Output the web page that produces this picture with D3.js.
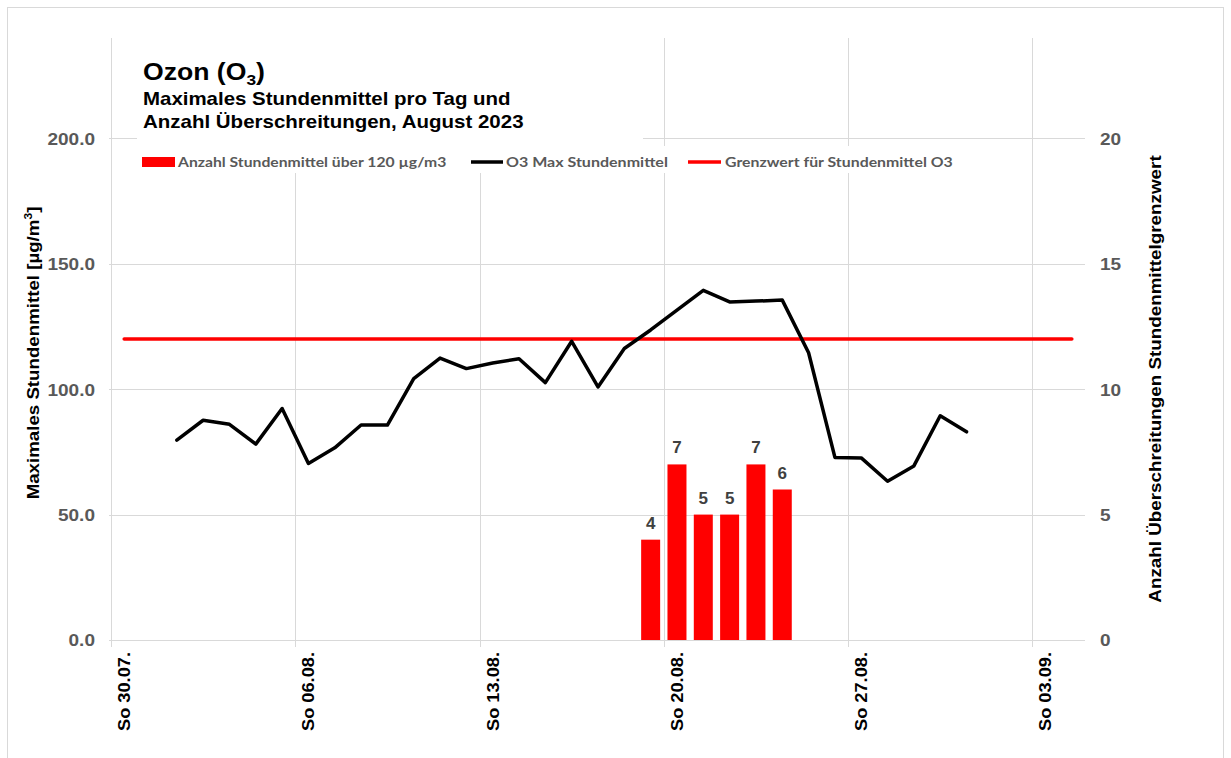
<!DOCTYPE html>
<html>
<head>
<meta charset="utf-8">
<script src="https://cdn.jsdelivr.net/npm/d3@7"></script>
<style>
  body { margin: 0; background: #fff; }
  svg text { font-family: "Liberation Sans", Arial, sans-serif; font-weight: bold; }
  .tick-label { fill: #595959; font-size: 17px; }
  .legend text { font-family: Lato, "Open Sans", sans-serif; fill: #595959; font-size: 13.5px; }
</style>
</head>
<body>
<svg id="vis" width="1231" height="758"></svg>
<script>
// daily maximum of hourly ozone means, August 2023
const days = [
  "2023-08-01", "2023-08-02", "2023-08-03", "2023-08-04", "2023-08-05", "2023-08-06",
  "2023-08-07", "2023-08-08", "2023-08-09", "2023-08-10", "2023-08-11", "2023-08-12",
  "2023-08-13", "2023-08-14", "2023-08-15", "2023-08-16", "2023-08-17", "2023-08-18",
  "2023-08-19", "2023-08-20", "2023-08-21", "2023-08-22", "2023-08-23", "2023-08-24",
  "2023-08-25", "2023-08-26", "2023-08-27", "2023-08-28", "2023-08-29", "2023-08-30",
  "2023-08-31"
];
const o3Max = [
  79.7, 87.6, 86.0, 78.1, 92.3, 70.4, 76.6, 85.7, 85.7, 104.2, 112.4, 108.2,
  110.4, 112.1, 102.6, 119.1, 100.9, 116.2, 123.6, 131.5, 139.4, 134.8, 135.1, 135.5,
  114.5, 72.8, 72.6, 63.3, 69.4, 89.4, 83.0
];

// number of hourly means above 120 µg/m3
const exceedDays = ["2023-08-19", "2023-08-20", "2023-08-21", "2023-08-22", "2023-08-23", "2023-08-24"];
const exceedCounts = [4, 7, 5, 5, 7, 6];

// limit value
const limitDays = ["2023-07-30", "2023-09-04"];
const limitValue = 120;

const leftTicks = [0, 50, 100, 150, 200];
const rightTicks = [0, 5, 10, 15, 20];
const weekTicks = ["2023-07-30", "2023-08-06", "2023-08-13", "2023-08-20", "2023-08-27", "2023-09-03"];

const legendLabels = [
  "Anzahl Stundenmittel über 120 µg/m3",
  "O3 Max Stundenmittel",
  "Grenzwert für Stundenmittel O3"
];

const parse = d3.timeParse("%Y-%m-%d");
const noon = d => d3.timeHour.offset(parse(d), 12);

const svg = d3.select("svg#vis");

const plot = { left: 111, right: 1085, top: 38, bottom: 640 };

const x = d3.scaleTime()
  .domain([parse("2023-07-30"), parse("2023-09-05")])
  .range([plot.left, plot.right]);

const y = d3.scaleLinear().domain([0, 240]).range([plot.bottom, plot.top]);
const y2 = d3.scaleLinear().domain([0, 24]).range([plot.bottom, plot.top]);

// stretch a text along its own direction so it covers a given length
// (the original renders its fonts a little wider than Arial)
function fit(text, px, py, rot, len) {
  const w = text.node().getBBox().width;
  text.attr("x", 0).attr("y", 0)
    .attr("transform", "translate(" + px + "," + py + ") rotate(" + rot + ") scale(" + (len / w) + ",1)");
  return text;
}

// outer frame
svg.append("rect")
  .attr("x", 7.5).attr("y", 7.5)
  .attr("width", 1216).attr("height", 760)
  .attr("fill", "none")
  .attr("stroke", "#d9d9d9");

// gridlines
const grid = svg.append("g").attr("class", "grid");
grid.selectAll("line.h")
  .data(leftTicks)
  .enter()
  .append("line")
  .attr("x1", plot.left - 2).attr("x2", plot.right)
  .attr("y1", d => Math.round(y(d)) + 0.5)
  .attr("y2", d => Math.round(y(d)) + 0.5)
  .attr("stroke", "#d9d9d9");

grid.selectAll("line.v")
  .data(weekTicks)
  .enter()
  .append("line")
  .attr("x1", d => Math.round(x(parse(d))) + 0.5)
  .attr("x2", d => Math.round(x(parse(d))) + 0.5)
  .attr("y1", plot.top)
  .attr("y2", plot.bottom + 7)
  .attr("stroke", "#d9d9d9");

// title and legend boxes hide the grid behind them
svg.append("rect").attr("x", 137).attr("y", 36).attr("width", 506).attr("height", 110).attr("fill", "#fff");
svg.append("rect").attr("x", 137).attr("y", 146).attr("width", 828).attr("height", 27).attr("fill", "#fff");

// bars (right axis)
const bars = exceedDays.map((d, i) => ({ date: noon(d), v: exceedCounts[i] }));
const bw = 19;
svg.append("g").selectAll("rect")
  .data(bars)
  .enter()
  .append("rect")
  .attr("x", d => x(d.date) - bw / 2)
  .attr("width", bw)
  .attr("y", d => y2(d.v))
  .attr("height", d => y2(0) - y2(d.v))
  .attr("fill", "#ff0000");

svg.append("g").selectAll("text")
  .data(bars)
  .enter()
  .append("text")
  .attr("x", d => x(d.date))
  .attr("y", d => y2(d.v) - 11)
  .attr("text-anchor", "middle")
  .attr("font-size", 17)
  .attr("fill", "#404040")
  .text(d => d.v);

// limit line
svg.append("path")
  .datum(limitDays.map(d => ({ date: noon(d), v: limitValue })))
  .attr("d", d3.line().x(d => x(d.date)).y(d => y(d.v)))
  .attr("fill", "none")
  .attr("stroke", "#ff0000")
  .attr("stroke-width", 3.5)
  .attr("stroke-linecap", "round");

// O3 line
svg.append("path")
  .datum(days.map((d, i) => ({ date: noon(d), v: o3Max[i] })))
  .attr("d", d3.line().x(d => x(d.date)).y(d => y(d.v)))
  .attr("fill", "none")
  .attr("stroke", "#000")
  .attr("stroke-width", 3.5)
  .attr("stroke-linejoin", "round")
  .attr("stroke-linecap", "round");

// left axis
const yAxis = svg.append("g")
  .attr("transform", "translate(95,0)")
  .call(d3.axisLeft(y).tickValues(leftTicks).tickFormat(d3.format(".1f")).tickSize(0).tickPadding(0));
yAxis.select(".domain").remove();
yAxis.selectAll("text").attr("class", "tick-label").attr("dy", "0.35em").attr("transform", "scale(1.12,1)");

// right axis
const y2Axis = svg.append("g")
  .attr("transform", "translate(1100,0)")
  .call(d3.axisRight(y2).tickValues(rightTicks).tickSize(0).tickPadding(0));
y2Axis.select(".domain").remove();
y2Axis.selectAll("text").attr("class", "tick-label").attr("dy", "0.35em").attr("transform", "scale(1.12,1)");

// bottom axis labels
const fmt = d3.timeFormat("%d.%m.");
svg.append("g").selectAll("text")
  .data(weekTicks)
  .enter()
  .append("text")
  .attr("text-anchor", "end")
  .attr("font-size", 17)
  .attr("fill", "#000")
  .text(d => "So " + fmt(parse(d)))
  .each(function(d) {
    fit(d3.select(this), x(parse(d)) + 19, 652, -90, 79);
  });

// axis titles
const lt = svg.append("text")
  .attr("text-anchor", "middle")
  .attr("font-size", 17);
lt.append("tspan").text("Maximales Stundenmittel [µg/m");
lt.append("tspan").attr("font-size", 11).attr("dy", -7).text("3");
lt.append("tspan").attr("dy", 7).text("]");
fit(lt, 39, 353, -90, 293);

const rt = svg.append("text")
  .attr("text-anchor", "middle")
  .attr("font-size", 17)
  .text("Anzahl Überschreitungen Stundenmittelgrenzwert");
fit(rt, 1161, 379, -90, 448);

// title
const t = svg.append("text")
  .attr("font-size", 23);
t.append("tspan").text("Ozon (O");
t.append("tspan").attr("font-size", 15).attr("dy", 5).text("3");
t.append("tspan").attr("dy", -5).text(")");
fit(t, 143, 80, 0, 122);

fit(svg.append("text").attr("font-size", 17.5).text("Maximales Stundenmittel pro Tag und"), 143, 105, 0, 368);
fit(svg.append("text").attr("font-size", 17.5).text("Anzahl Überschreitungen, August 2023"), 143, 128, 0, 381);

// legend
const legend = svg.append("g").attr("class", "legend");
legend.append("rect").attr("x", 142).attr("y", 157).attr("width", 33).attr("height", 10).attr("fill", "#ff0000");
fit(legend.append("text").text(legendLabels[0]), 178, 167, 0, 270);
legend.append("line").attr("x1", 471).attr("x2", 503).attr("y1", 162).attr("y2", 162)
  .attr("stroke", "#000").attr("stroke-width", 3.5);
fit(legend.append("text").text(legendLabels[1]), 506, 167, 0, 162);
legend.append("line").attr("x1", 688).attr("x2", 721).attr("y1", 162).attr("y2", 162)
  .attr("stroke", "#ff0000").attr("stroke-width", 3.5);
fit(legend.append("text").text(legendLabels[2]), 725, 167, 0, 228);
</script>
</body>
</html>
